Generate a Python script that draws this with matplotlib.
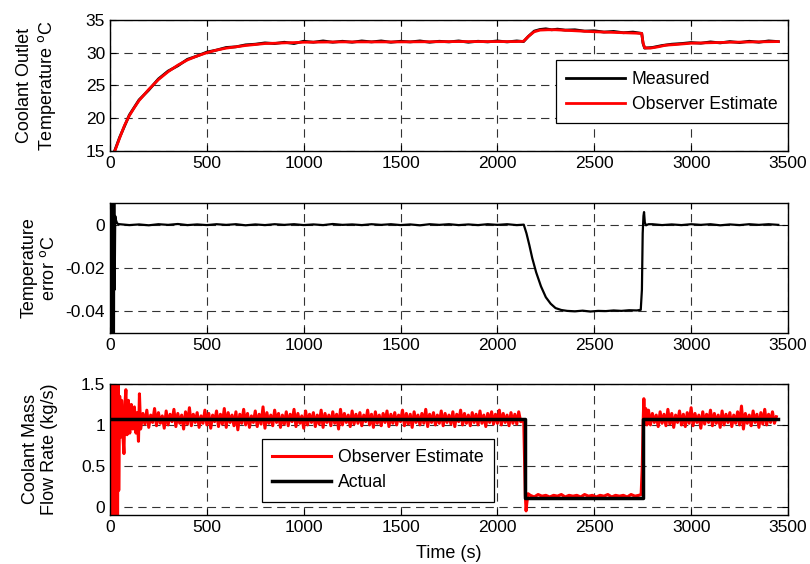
import matplotlib

matplotlib.use("Agg")
import matplotlib.pyplot as plt
import numpy as np

plt.rcParams["font.family"] = ["Liberation Sans", "DejaVu Sans"]
plt.rcParams["lines.scale_dashes"] = False

# --- coolant outlet temperature (deg C) ---
temp_meas_t = [0, 25, 50, 75, 100, 150, 200, 250, 300, 350, 400, 450, 500, 550, 600, 650,
               700, 750, 800, 850, 900, 950, 1000, 1050, 1100, 1150, 1200, 1250, 1300, 1350,
               1400, 1450, 1500, 1550, 1600, 1650, 1700, 1750, 1800, 1850, 1900, 1950, 2000,
               2050, 2100, 2135, 2160, 2190, 2220, 2250, 2280, 2310, 2350, 2400, 2450, 2500,
               2550, 2600, 2650, 2700, 2745, 2752, 2760, 2800, 2850, 2900, 2950, 3000, 3050,
               3100, 3150, 3200, 3250, 3300, 3350, 3400, 3450]
temp_meas = [13.1, 15.1, 17.1, 18.8, 20.5, 22.8, 24.3, 26.0, 27.2, 28.0, 29.0, 29.5, 30.1, 30.4,
             30.8, 30.9, 31.2, 31.3, 31.5, 31.4, 31.6, 31.4, 31.75, 31.6, 31.8, 31.6, 31.75,
             31.6, 31.8, 31.65, 31.8, 31.6, 31.75, 31.65, 31.8, 31.6, 31.75, 31.65, 31.8, 31.6,
             31.75, 31.65, 31.8, 31.65, 31.8, 31.7, 32.5, 33.3, 33.55, 33.65, 33.5, 33.6, 33.45,
             33.5, 33.3, 33.35, 33.15, 33.25, 33.05, 33.15, 32.95, 31.4, 30.7, 30.8, 31.1, 31.3,
             31.4, 31.55, 31.45, 31.65, 31.5, 31.7, 31.55, 31.75, 31.6, 31.8, 31.7]

temp_est_t = [0, 25, 50, 75, 100, 125, 150, 200, 250, 300, 350, 400, 450, 500, 550, 600, 700,
              800, 900, 1000, 1200, 1500, 1800, 2100, 2135, 2160, 2190, 2220, 2260, 2300, 2400,
              2500, 2600, 2700, 2745, 2752, 2760, 2790, 2830, 2870, 2920, 3000, 3200, 3450]
temp_est = [13.0, 15.0, 17.0, 18.9, 20.4, 21.6, 22.7, 24.4, 25.9, 27.1, 28.1, 28.9, 29.5, 30.0,
            30.4, 30.7, 31.1, 31.4, 31.5, 31.6, 31.65, 31.65, 31.7, 31.7, 31.75, 32.5, 33.2,
            33.45, 33.5, 33.5, 33.35, 33.2, 33.1, 33.0, 32.95, 31.5, 30.75, 30.7, 30.9, 31.15,
            31.25, 31.45, 31.6, 31.7]

# --- temperature error (deg C) ---
err_start_t = [0, 2, 4, 6, 8, 10, 12, 14, 16, 18, 20, 22, 24, 27, 31, 36, 45]
err_start = [0.0, 0.02, -0.07, 0.02, -0.07, 0.02, -0.07, 0.02, -0.07, 0.02, -0.07, 0.015,
             -0.03, 0.004, 0.002, 0.0008, 0.0]
err_steady1 = [0.0002, -0.0002, 0.0001, -0.0003, 0.0002, -0.0001, 0.0003, -0.0002, 0.0001, -0.0002,
               0.0002, -0.0001, 0.0002, -0.0003, 0.0001, -0.0002, 0.0002, -0.0001, 0.0002, -0.0002,
               0.0001, -0.0002, 0.0003, -0.0001, 0.0001, -0.0002, 0.0002, -0.0001, 0.0002, -0.0002,
               0.0001, -0.0003, 0.0002, -0.0001, 0.0002, -0.0002, 0.0001, -0.0002, 0.0002, -0.0001,
               0.0002, -0.0002]
err_drop_t = [2136, 2150, 2165, 2180, 2200, 2225, 2250, 2275, 2300, 2330, 2360]
err_drop = [0.0, -0.004, -0.0095, -0.0155, -0.022, -0.0285, -0.0335, -0.0365, -0.0385, -0.0394, -0.0398]
err_flat = [-0.0400, -0.0397, -0.0401, -0.0398, -0.0399, -0.0396, -0.0398, -0.0395, -0.0396]
err_jump_t = [2740, 2746, 2750, 2754, 2757, 2761, 2767, 2780]
err_jump = [-0.0393, -0.030, -0.004, 0.004, 0.0058, 0.001, -0.0003, 0.0002]
err_steady2 = [0.0002, -0.0002, 0.0001, -0.0002, 0.0002, -0.0001, 0.0002, -0.0003, 0.0001,
               -0.0002, 0.0002, -0.0001, 0.0002, -0.0001]

# --- coolant mass flow rate (kg/s) ---
flow_act_t = [0, 2140, 2140, 2753, 2753, 3450]
flow_act = [1.077, 1.077, 0.113, 0.113, 1.077, 1.077]

flow_start_t = [0, 3, 6, 9, 12, 15, 18, 21, 24, 27, 30, 33, 36, 39, 42, 45,
                50, 55, 60, 66, 72, 77, 82, 88, 95, 102, 110, 118, 126, 134, 140, 147, 152, 158]
flow_start = [1.6, -0.2, 1.6, -0.2, 1.6, -0.2, 1.6, -0.2, 1.6, -0.2, 1.6, -0.2, 1.6, -0.2, 1.6, 0.2,
              1.35, 0.85, 1.3, 0.9, 0.65, 1.25, 1.43, 0.88, 1.3, 0.9, 1.25, 0.95, 1.22, 0.9, 1.15,
              0.8, 1.38, 0.95]
flow_mid = [1.14, 1.01, 1.18, 0.97, 1.12, 1.03, 1.20, 0.99, 1.15, 1.02, 1.11, 0.96, 1.17, 1.00,
            1.13, 1.04, 1.19, 0.98, 1.14, 1.02, 1.12, 0.95, 1.16, 1.01, 1.21, 0.99, 1.13, 1.03,
            1.15, 0.97, 1.11, 1.02, 1.18, 1.00, 1.14, 0.96, 1.12, 1.04, 1.17, 0.98, 1.13, 1.01,
            1.20, 0.97, 1.15, 1.03, 1.12, 0.99, 1.16, 0.94, 1.13, 1.02, 1.19, 1.00, 1.14, 0.97,
            1.11, 1.03, 1.17, 0.98, 1.13, 1.01, 1.22, 0.96, 1.15, 1.02, 1.12, 0.99, 1.18, 1.03,
            1.14, 0.97, 1.12, 1.01, 1.16, 0.99, 1.13, 1.04, 1.19, 0.98, 1.14, 1.02, 1.11, 0.96,
            1.17, 1.00, 1.13, 1.03, 1.15, 0.98, 1.12, 1.01, 1.18, 0.97, 1.14, 1.03, 1.12, 0.99,
            1.16, 1.02, 1.13, 0.95, 1.19, 1.00, 1.14, 1.03, 1.12, 0.98, 1.17, 1.01, 1.13, 1.02,
            1.15, 0.99, 1.12, 1.04, 1.18, 1.00, 1.13, 0.97, 1.16, 1.02, 1.12, 0.99, 1.14, 1.03,
            1.17, 0.98, 1.13, 1.02, 1.15, 1.00, 1.12, 1.04, 1.18, 0.99, 1.14, 1.01, 1.13, 0.97,
            1.16, 1.03, 1.12, 1.00, 1.14, 1.02, 1.19, 0.98, 1.13, 1.03, 1.15, 1.00, 1.12, 1.02,
            1.17, 0.99, 1.14, 1.03, 1.12, 1.01, 1.16, 0.98, 1.13, 1.04, 1.18, 1.00, 1.14, 1.02,
            1.12, 0.99, 1.15, 1.03, 1.13, 1.00, 1.17, 1.02, 1.12, 0.98, 1.14, 1.03, 1.16, 1.01,
            1.13, 1.02, 1.18, 1.00, 1.14, 1.03, 1.12, 0.99, 1.15, 1.02, 1.13, 1.01, 1.16, 1.04]
flow_drop_t = [2136, 2140, 2144, 2148, 2152, 2158]
flow_drop = [1.05, 0.6, 0.15, -0.05, 0.05, 0.16]
flow_low = [0.14, 0.12, 0.15, 0.13, 0.14, 0.12, 0.14, 0.13, 0.15, 0.12, 0.14, 0.13, 0.14, 0.12,
            0.15, 0.13, 0.14, 0.12, 0.14, 0.13, 0.15, 0.12, 0.14, 0.13, 0.14, 0.12, 0.15, 0.13, 0.14]
flow_rise_t = [2742, 2748, 2752, 2756, 2760, 2766, 2772]
flow_rise = [0.15, 0.5, 1.0, 1.32, 1.05, 1.2, 1.0]
flow_end = [1.18, 1.00, 1.14, 1.03, 1.12, 0.98, 1.16, 1.02, 1.13, 0.99, 1.19, 1.01, 1.14, 0.97,
            1.12, 1.03, 1.17, 1.00, 1.13, 0.98, 1.15, 1.02, 1.21, 0.99, 1.14, 1.03, 1.12, 0.96,
            1.16, 1.01, 1.13, 1.03, 1.18, 0.99, 1.14, 1.02, 1.12, 0.97, 1.17, 1.00, 1.13, 1.03,
            1.15, 0.98, 1.12, 1.02, 1.16, 1.00, 1.23, 0.95, 1.14, 1.02, 1.12, 0.99, 1.17, 1.03,
            1.13, 0.97, 1.15, 1.01, 1.19, 1.00, 1.13, 1.03, 1.16, 1.02, 1.10]

x_ticks = [0, 500, 1000, 1500, 2000, 2500, 3000, 3500]


def grid_times(start, step, values):
    return list(start + step * np.arange(len(values)))


err_t = (err_start_t + grid_times(50, 50, err_steady1) + err_drop_t + grid_times(2400, 40, err_flat)
         + err_jump_t + grid_times(2800, 50, err_steady2))
err = err_start + err_steady1 + err_drop + err_flat + err_jump + err_steady2

flow_est_t = (flow_start_t + grid_times(170, 10, flow_mid) + flow_drop_t + grid_times(2170, 20, flow_low)
              + flow_rise_t + grid_times(2780, 10, flow_end))
flow_est = flow_start + flow_mid + flow_drop + flow_low + flow_rise + flow_end

legend_kw = dict(fontsize=12.7, fancybox=False, edgecolor="k", framealpha=1, handlelength=3.3,
                 handletextpad=0.4, labelspacing=0.45, borderpad=0.6, borderaxespad=0)


def style_axes(ax):
    ax.set_xlim(0, 3500)
    ax.set_xticks(x_ticks)
    ax.tick_params(direction="in", top=True, right=True, labelsize=12.5, length=4, width=0.8)
    ax.grid(True, color="0.2", linestyle=(0, (6, 4)), linewidth=0.8)
    for spine in ax.spines.values():
        spine.set_linewidth(1.0)
    ax.yaxis.set_label_coords(-0.076, 0.5)


fig = plt.figure(figsize=(8.1, 5.64), dpi=100)
ax1 = fig.add_axes([0.1358, 0.7323, 0.837, 0.2323])
ax2 = fig.add_axes([0.1358, 0.4096, 0.837, 0.2305])
ax3 = fig.add_axes([0.1358, 0.0869, 0.837, 0.2323])

ax1.plot(temp_meas_t, temp_meas, color="k", lw=2.0, label="Measured")
ax1.plot(temp_est_t, temp_est, color="r", lw=2.0, label="Observer Estimate")
ax1.set_ylim(15, 35)
ax1.set_yticks([15, 20, 25, 30, 35])
ax1.set_ylabel("Coolant Outlet\nTemperature $^{\\mathrm{o}}$C", fontsize=13)
style_axes(ax1)
leg1 = ax1.legend(loc="lower right", bbox_to_anchor=(1.0, 0.21), **legend_kw)
leg1.get_frame().set_linewidth(0.9)

ax2.plot(err_t, err, color="k", lw=1.6)
ax2.set_ylim(-0.05, 0.01)
ax2.set_yticks([-0.04, -0.02, 0])
ax2.set_yticklabels(["-0.04", "-0.02", "0"])
ax2.set_ylabel("Temperature\nerror $^{\\mathrm{o}}$C", fontsize=13)
style_axes(ax2)

ax3.plot(flow_est_t, flow_est, color="r", lw=2.2, label="Observer Estimate")
ax3.plot(flow_act_t, flow_act, color="k", lw=2.5, label="Actual")
ax3.set_ylim(-0.1, 1.5)
ax3.set_yticks([0, 0.5, 1, 1.5])
ax3.set_yticklabels(["0", "0.5", "1", "1.5"])
ax3.set_ylabel("Coolant Mass\nFlow Rate (kg/s)", fontsize=13)
ax3.set_xlabel("Time (s)", fontsize=13, labelpad=7)
style_axes(ax3)
leg3 = ax3.legend(loc="lower left", bbox_to_anchor=(0.224, 0.10), **legend_kw)
leg3.get_frame().set_linewidth(0.9)

fig.savefig("out.png", dpi=100)
